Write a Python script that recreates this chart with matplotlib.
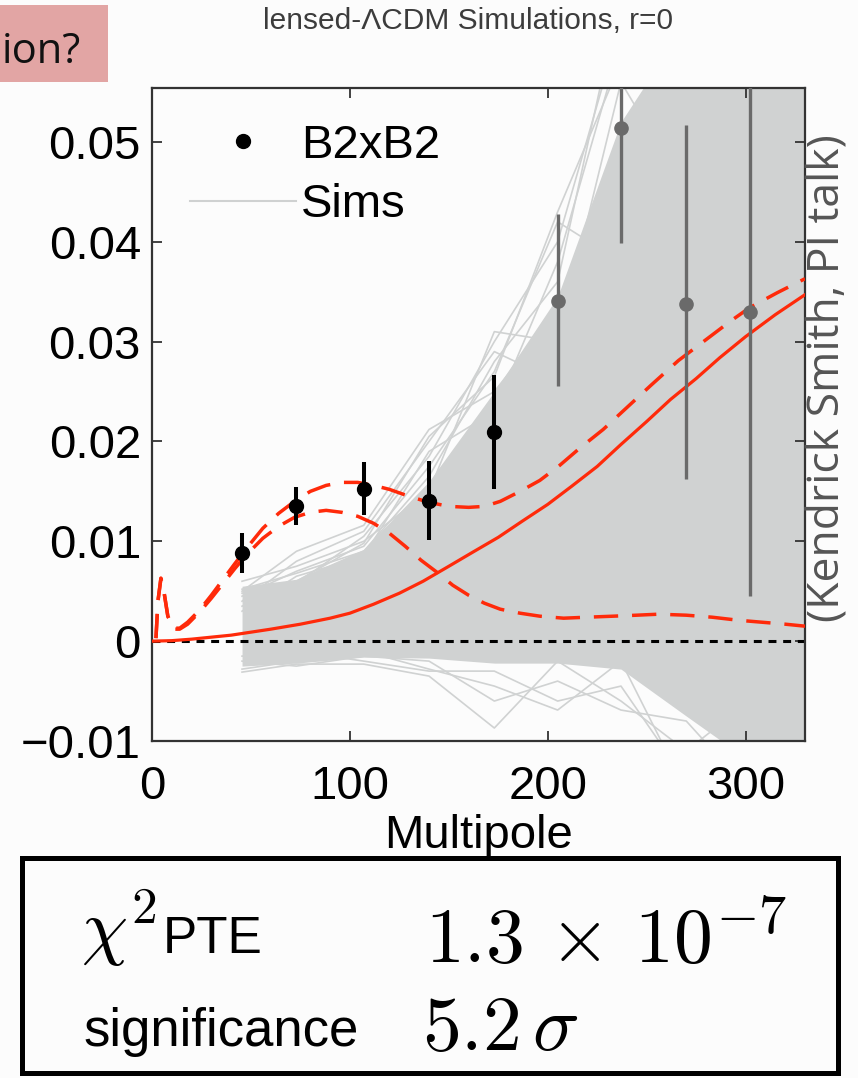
import numpy as np
import matplotlib.pyplot as plt
from matplotlib.lines import Line2D
from matplotlib.patches import Rectangle

plt.rcParams['font.family'] = ['Liberation Sans', 'DejaVu Sans']
plt.rcParams['mathtext.fontset'] = 'cm'

W, H = 858, 1078

# B2xB2 bandpowers
ell_pts = [45.5, 73, 107, 140, 173, 205, 237, 270, 302]
bb_pts = [0.0088, 0.0135, 0.0152, 0.0140, 0.0209, 0.0341, 0.0514, 0.0338, 0.0330]
bb_lo = [0.0068, 0.0116, 0.0126, 0.0101, 0.0152, 0.0256, 0.0399, 0.0162, 0.0045]
bb_hi = [0.0108, 0.0154, 0.0179, 0.0180, 0.0267, 0.0428, 0.0630, 0.0517, 0.0615]
n_black = 5

# lensed-LCDM sims: dense core envelope + a few visible stragglers
ell_sim = [45.5, 73, 107, 140, 173, 205, 237, 270, 302, 335]
sim_lo = [-0.0025, -0.0022, -0.0016, -0.0017, -0.0022, -0.0022, -0.0028, -0.0075, -0.0120, -0.0150]
sim_hi = [0.0055, 0.0062, 0.0092, 0.0160, 0.0250, 0.0345, 0.0520, 0.0620, 0.0650, 0.0700]
sim_lines = [
    [0.0050, 0.0090, 0.0116, 0.0212, 0.0250, 0.0330, 0.0480, 0.0520, 0.0600, 0.0650],
    [0.0060, 0.0075, 0.0100, 0.0150, 0.0310, 0.0300, 0.0560, 0.0450, 0.0500, 0.0600],
    [0.0045, 0.0070, 0.0095, 0.0175, 0.0270, 0.0420, 0.0380, 0.0620, 0.0550, 0.0700],
    [0.0030, 0.0065, 0.0085, 0.0190, 0.0230, 0.0380, 0.0600, 0.0480, 0.0650, 0.0500],
    [0.0040, 0.0080, 0.0110, 0.0200, 0.0290, 0.0260, 0.0500, 0.0580, 0.0700, 0.0600],
    [0.0048, 0.0058, 0.0105, 0.0185, 0.0300, 0.0400, 0.0620, 0.0500, 0.0600, 0.0650],
    [0.0052, 0.0068, 0.0090, 0.0165, 0.0280, 0.0360, 0.0650, 0.0560, 0.0620, 0.0680],
    [0.0035, 0.0060, 0.0098, 0.0205, 0.0265, 0.0430, 0.0580, 0.0600, 0.0580, 0.0700],
    [-0.0031, -0.0023, -0.0023, -0.0035, -0.0087, -0.0020, -0.0060, -0.0110, -0.0060, -0.0150],
    [-0.0028, -0.0020, -0.0010, -0.0028, -0.0045, -0.0069, -0.0020, -0.0150, -0.0120, -0.0080],
    [-0.0020, -0.0025, -0.0015, -0.0020, -0.0060, -0.0040, -0.0069, -0.0080, -0.0150, -0.0120],
    [-0.0015, -0.0010, -0.0020, -0.0030, -0.0030, -0.0060, -0.0045, -0.0140, -0.0090, -0.0140],
]

# lensing BB (solid)
ell_lens = [0, 10, 20, 30, 40, 50, 60, 75, 90, 100, 112, 125, 137, 150, 162, 175,
            187, 200, 212, 225, 237, 250, 262, 275, 287, 300, 315, 330]
bb_lens = [0, 0.00005, 0.0002, 0.0004, 0.0006, 0.0009, 0.0012, 0.0017, 0.0023, 0.0028,
           0.0037, 0.0048, 0.0060, 0.0075, 0.0089, 0.0104, 0.0120, 0.0137, 0.0155, 0.0175,
           0.0197, 0.0220, 0.0242, 0.0263, 0.0284, 0.0305, 0.0327, 0.0347]

# r=0.2 tensor BB (dashed)
ell_tens = [2, 3, 4.5, 6, 8, 11, 14, 18, 24, 30, 36, 42, 48, 56, 64, 72, 80, 88, 96,
            104, 112, 120, 128, 136, 144, 152, 160, 168, 176, 186, 196, 208, 220, 233,
            245, 256, 270, 283, 296, 308, 320, 330]
bb_tens = [0.0003, 0.0040, 0.0063, 0.0050, 0.0025, 0.0012, 0.0012, 0.0017, 0.0029,
           0.0043, 0.0058, 0.0073, 0.0087, 0.0103, 0.0115, 0.0124, 0.0129, 0.0131,
           0.0129, 0.0125, 0.0118, 0.0108, 0.0095, 0.0081, 0.0069, 0.0056, 0.0046,
           0.0038, 0.0032, 0.0028, 0.0025, 0.0023, 0.0024, 0.0025, 0.0026, 0.0027,
           0.0026, 0.0024, 0.0021, 0.0019, 0.0017, 0.0015]

# lensing + tensor (dashed)
ell_tot = [2, 3, 4.5, 6, 8, 11, 14, 18, 24, 30, 36, 42, 49, 56, 64, 72, 80, 88, 96,
           104, 112, 120, 130, 140, 150, 160, 168, 176, 186, 196, 206, 216, 228, 240,
           252, 266, 280, 292, 302, 316, 330]
bb_tot = [0.0003, 0.0040, 0.0063, 0.0050, 0.0025, 0.0013, 0.0013, 0.0019, 0.0031,
          0.0046, 0.0062, 0.0078, 0.0096, 0.0113, 0.0128, 0.0140, 0.0150, 0.0156,
          0.0159, 0.0159, 0.0156, 0.0152, 0.0145, 0.0139, 0.0135, 0.0134, 0.0135,
          0.0140, 0.0150, 0.0161, 0.0176, 0.0193, 0.0212, 0.0234, 0.0256, 0.0281,
          0.0302, 0.0320, 0.0334, 0.0349, 0.0363]

yticks = [-0.01, 0, 0.01, 0.02, 0.03, 0.04, 0.05]
ytick_labels = ['\u22120.01', '0', '0.01', '0.02', '0.03', '0.04', '0.05']
xticks = [0, 100, 200, 300]

RED = '#ff2a0a'
SIMGRAY = '#d0d2d2'

fig = plt.figure(figsize=(W / 100, H / 100), dpi=100, facecolor='#fcfcfc')
ax = fig.add_axes([152 / W, 1 - 741 / H, (805 - 152) / W, (741 - 88) / H])
ax.set_facecolor('#fcfcfc')

ax.fill_between(ell_sim, sim_lo, sim_hi, color=SIMGRAY, lw=0, zorder=1)
for s in sim_lines:
    ax.plot(ell_sim, s, color=SIMGRAY, lw=1.2, zorder=1)

ax.plot([0, 335], [0, 0], color='black', lw=2.2, ls=(0, (2.6, 2.2)), zorder=2)
ax.plot(ell_lens, bb_lens, color=RED, lw=2.3, zorder=3)
ax.plot(ell_tens, bb_tens, color=RED, lw=2.5, ls=(0, (7, 4)), zorder=3)
ax.plot(ell_tot, bb_tot, color=RED, lw=2.5, ls=(0, (7, 4)), zorder=3)

for i in range(len(ell_pts)):
    c = 'black' if i < n_black else '#6a6a6a'
    lw = 2.9 if i < n_black else 2.4
    ax.errorbar([ell_pts[i]], [bb_pts[i]],
                yerr=[[bb_pts[i] - bb_lo[i]], [bb_hi[i] - bb_pts[i]]],
                fmt='o', color=c, ms=10 if i < n_black else 9.5, elinewidth=lw,
                capsize=0, zorder=4)

ax.set_xlim(0, 330)
ax.set_ylim(-0.01, 0.0554)
ax.set_xticks(xticks)
ax.set_yticks(yticks)
ax.set_yticklabels(ytick_labels)
ax.tick_params(direction='in', length=7, width=1.3, color='#333333', labelsize=34,
               top=True, right=True, pad=8)
ax.tick_params(axis='x', pad=17)
for sp in ax.spines.values():
    sp.set_color('#333333')
    sp.set_linewidth(1.6)
ax.set_xlabel('Multipole', fontsize=34, labelpad=4)

handles = [Line2D([], [], ls='none', marker='o', color='black', ms=10),
           Line2D([], [], color='#cfd1d1', lw=1.5)]
ax.legend(handles, ['B2xB2', 'Sims'], loc='upper left', frameon=False, fontsize=34,
          bbox_to_anchor=(190 / W, 1 - 124 / H), bbox_transform=fig.transFigure,
          borderpad=0, borderaxespad=0, handlelength=2.25, handletextpad=0.1,
          labelspacing=0.32)

# header, slide snippets
fig.add_artist(Rectangle((0, 1 - 82 / H), 108 / W, 77 / H, transform=fig.transFigure,
                         facecolor='#e2a5a4', edgecolor='none'))
fig.text(2 / W, 1 - 63 / H, 'ion?', fontsize=30, family=['Open Sans', 'DejaVu Sans'],
         color='#111111', va='baseline', ha='left')
fig.text(468 / W, 1 - 29 / H, 'lensed-\u039bCDM Simulations, r=0', fontsize=21.5,
         color='#3c3c3c', va='baseline', ha='center')
fig.text(827 / W, 1 - 378 / H, '(Kendrick Smith, PI talk)', fontsize=32, rotation=90,
         family=['Open Sans', 'DejaVu Sans'], color='#555555', ha='center', va='center')

# result box
fig.add_artist(Rectangle((22 / W, 1 - 1073 / H), (838 - 22) / W, (1073 - 858) / H,
                         transform=fig.transFigure, facecolor='none', edgecolor='black',
                         lw=3.6))
fig.text(81 / W, 1 - 952 / H, r'$\chi^2$', fontsize=53, va='baseline', ha='left')
fig.text(163 / W, 1 - 953 / H, 'PTE', fontsize=37, va='baseline', ha='left')
fig.text(425 / W, 1 - 963 / H, r'$1.3\,\times\,10^{-7}$', fontsize=56, va='baseline', ha='left')
fig.text(83 / W, 1 - 1046 / H, 'significance', fontsize=38, va='baseline', ha='left')
fig.text(422 / W, 1 - 1050 / H, r'$5.2\,\sigma$', fontsize=56, va='baseline', ha='left')

fig.savefig('out.png', dpi=100, facecolor=fig.get_facecolor())
